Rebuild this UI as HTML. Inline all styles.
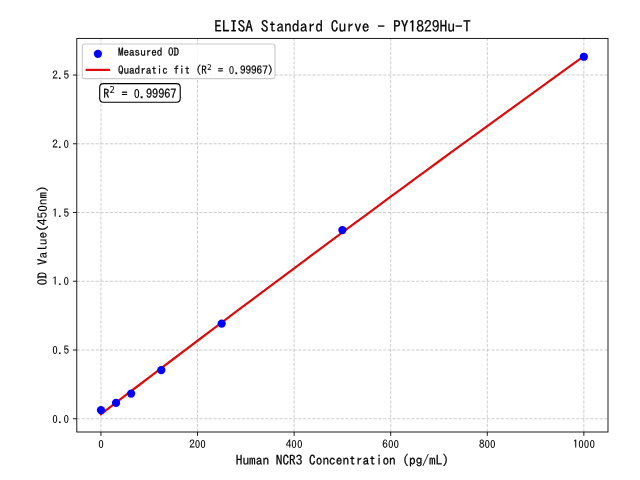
<!DOCTYPE html>
<html><head><meta charset="utf-8"><title>ELISA Standard Curve - PY1829Hu-T</title>
<style>html,body{margin:0;padding:0;background:#fff;overflow:hidden}svg{display:block}text{font-family:'IPAGothic', 'Liberation Sans', sans-serif;fill:#000;stroke:#000;paint-order:stroke}.m{stroke-width:0.2px}.tk text{font-size:10px;stroke-width:0.1px}.yl{stroke-width:0.12px}.z{font-family:'Noto Sans Mono CJK SC', 'IPAGothic', sans-serif;stroke-width:0.0px}.s{font-family:'DejaVu Sans', 'Liberation Sans', sans-serif;stroke-width:0}</style></head>
<body><svg width="640" height="480" viewBox="0 0 576 432">
<rect x="0" y="0" width="576" height="432" fill="#fff"/>
<path d="M90.851 388.8V34.56M177.775 388.8V34.56M264.698 388.8V34.56M351.622 388.8V34.56M438.545 388.8V34.56M525.469 388.8V34.56M69.12 376.869H547.2M69.12 315.002H547.2M69.12 253.135H547.2M69.12 191.267H547.2M69.12 129.4H547.2M69.12 67.533H547.2" fill="none" stroke="#b0b0b0" stroke-opacity="0.7" stroke-width="0.8" stroke-dasharray="2.96,1.28"/>
<path d="M90.851 388.8v3.5M177.775 388.8v3.5M264.698 388.8v3.5M351.622 388.8v3.5M438.545 388.8v3.5M525.469 388.8v3.5M69.12 376.869h-3.5M69.12 315.002h-3.5M69.12 253.135h-3.5M69.12 191.267h-3.5M69.12 129.4h-3.5M69.12 67.533h-3.5" fill="none" stroke="#000" stroke-width="0.8"/>
<g class="tk" text-anchor="middle">
<text x="90.851" y="403.309"><tspan class="z">0</tspan></text>
<text x="177.775" y="403.309">2<tspan class="z">00</tspan></text>
<text x="264.698" y="403.309">4<tspan class="z">00</tspan></text>
<text x="351.622" y="403.309">6<tspan class="z">00</tspan></text>
<text x="438.545" y="403.309">8<tspan class="z">00</tspan></text>
<text x="525.469" y="403.309">1<tspan class="z">000</tspan></text>
</g>
<g class="tk" text-anchor="end">
<text x="62.12" y="380.624"><tspan class="z">0</tspan>.<tspan class="z">0</tspan></text>
<text x="62.12" y="318.757"><tspan class="z">0</tspan>.5</text>
<text x="62.12" y="256.889">1.<tspan class="z">0</tspan></text>
<text x="62.12" y="195.022">1.5</text>
<text x="62.12" y="133.155">2.<tspan class="z">0</tspan></text>
<text x="62.12" y="71.287">2.5</text>
</g>
<text class="m" style="font-size:12px" text-anchor="middle" x="308.16" y="418.5">Human NCR3 Concentration (pg/mL)</text>
<text class="m yl" style="font-size:12px" text-anchor="middle" transform="translate(41.95 211.68) rotate(-90) scale(1 0.95)">OD Value(45<tspan class="z">0</tspan>nm)</text>
<polyline points="90.851,372.698 101.716,364.4 112.582,356.115 123.447,347.842 134.313,339.582 145.178,331.335 156.044,323.1 166.909,314.878 177.775,306.669 188.64,298.472 199.505,290.288 210.371,282.117 221.236,273.958 232.102,265.813 242.967,257.679 253.833,249.559 264.698,241.451 275.564,233.355 286.429,225.273 297.295,217.203 308.16,209.146 319.025,201.101 329.891,193.069 340.756,185.05 351.622,177.043 362.487,169.05 373.353,161.068 384.218,153.1 395.084,145.144 405.949,137.201 416.815,129.27 427.68,121.352 438.545,113.447 449.411,105.555 460.276,97.675 471.142,89.808 482.007,81.953 492.873,74.111 503.738,66.282 514.604,58.466 525.469,50.662" fill="none" stroke="#dc0c0c" stroke-width="2" stroke-linecap="square"/>
<rect x="69.12" y="34.56" width="478.08" height="354.24" fill="none" stroke="#000" stroke-width="0.8"/>
<path d="M93.024 92.017H158.914Q162.214 92.017 162.214 88.717V78.597Q162.214 75.297 158.914 75.297H93.024Q89.724 75.297 89.724 78.597V88.717Q89.724 92.017 93.024 92.017Z" fill="#fff" fill-opacity="0.8" stroke="#000" stroke-width="1"/>
<text class="m" style="font-size:11px" x="93.024" y="87.9">R<tspan class="s" style="font-size:7.7px" dy="-4.211" x="98.629">2</tspan><tspan dy="4.211" x="103.829"> = <tspan class="z">0</tspan>.99967</tspan></text>
<text class="m" style="font-size:14px" text-anchor="middle" x="308.16" y="29.2">ELISA Standard Curve - PY1829Hu-T</text>
<circle cx="90.851" cy="369.074" r="3.71" fill="#00f"/>
<circle cx="104.433" cy="362.64" r="3.71" fill="#00f"/>
<circle cx="118.015" cy="354.226" r="3.71" fill="#00f"/>
<circle cx="145.178" cy="333.067" r="3.71" fill="#00f"/>
<circle cx="199.505" cy="291.245" r="3.71" fill="#00f"/>
<circle cx="308.16" cy="207.105" r="3.71" fill="#00f"/>
<circle cx="525.469" cy="51.076" r="3.71" fill="#00f"/>
<path d="M76.12 70.7975H245.5Q247.5 70.7975 247.5 68.7975V41.56Q247.5 39.56 245.5 39.56H76.12Q74.12 39.56 74.12 41.56V68.7975Q74.12 70.7975 76.12 70.7975Z" fill="#fff" fill-opacity="0.8" stroke="#ccc" stroke-width="1"/>
<circle cx="88.12" cy="48.444" r="3.71" fill="#00f"/>
<text class="m" style="font-size:10px" x="106.12" y="50.35">Measured OD</text>
<path d="M78.12 62.9H98.12" stroke="#dc0c0c" stroke-width="2" stroke-linecap="square"/>
<text class="m" style="font-size:10px" x="106.12" y="66.6">Quadratic fit (R<tspan class="s" style="font-size:7px" dy="-3.83" x="186.216">2</tspan><tspan dy="3.83" x="190.943"> = <tspan class="z">0</tspan>.99967)</tspan></text>
</svg></body></html>
